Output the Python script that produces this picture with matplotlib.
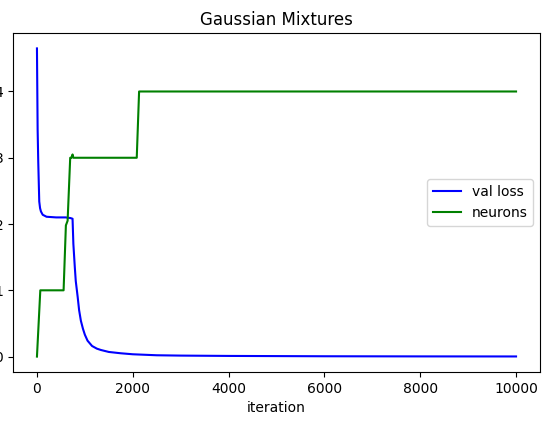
import numpy as np
from matplotlib import pyplot as plt

# values
loss_iter = [0, 14, 27, 48, 65, 83, 120, 200, 400, 600, 700, 743, 760, 790, 810, 850, 880, 917,
             960, 1000, 1056, 1150, 1250, 1333, 1500, 1750, 2000, 2500, 3000, 4000, 6000, 8000, 10000]
loss_val = [4.65, 3.43, 2.94, 2.34, 2.24, 2.19, 2.14, 2.11, 2.1, 2.1, 2.09, 2.08, 1.7, 1.35, 1.14, 0.9, 0.7, 0.54,
            0.42, 0.33, 0.24, 0.16, 0.12, 0.1, 0.07, 0.05, 0.035, 0.02, 0.015, 0.01, 0.005, 0.003, 0.002]

neur_iter = [0, 70, 556, 604, 640, 694, 720, 743, 760, 2083, 2132, 10000]
neur_val = [0, 1, 1, 1.98, 2.05, 3, 3.0, 3.05, 3, 3, 4, 4]

fig = plt.figure(figsize=(5.48, 4.25), dpi=100)
ax = fig.add_axes([13/548, 53/425, 527/548, 339/425])

ax.plot(loss_iter, loss_val, color='b', label='val loss')
ax.plot(neur_iter, neur_val, color='g', label='neurons')
ax.set_title('Gaussian Mixtures')
ax.set_xlabel('iteration')
ax.set_xticks([0, 2000, 4000, 6000, 8000, 10000])
ax.set_yticks([0, 1, 2, 3, 4])
ax.legend(loc='center right')

plt.savefig('out.png', dpi=100)
